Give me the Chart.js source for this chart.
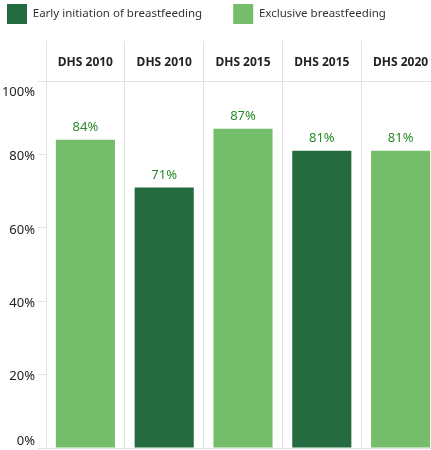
<!DOCTYPE html>
<html><head><meta charset="utf-8">
<script src="https://cdn.jsdelivr.net/npm/chart.js@4/dist/chart.umd.min.js"></script>
<style>html,body{margin:0;padding:0;background:#fff;overflow:hidden;width:431px;height:450px}#wrap{width:440px;height:450px;position:relative}</style>
</head><body><div id="wrap"><canvas id="c"></canvas></div>
<script>
const categories = ['DHS 2010', 'DHS 2010', 'DHS 2015', 'DHS 2015', 'DHS 2020'];
const earlyInitiation = [null, 71, null, 81, null];
const exclusiveBreastfeeding = [84, null, 87, null, 81];
const yTickValues = [0, 20, 40, 60, 80, 100];
const seriesNames = ['Early initiation of breastfeeding', 'Exclusive breastfeeding'];

const DARK = '#246B3F', LIGHT = '#74BD6A', LABEL = '#2A8A2A', GRID = '#e2e2e2';
const FONT = "'Noto Sans', sans-serif";

const valueLabels = {
  id: 'valueLabels',
  afterDatasetsDraw(chart) {
    const ctx = chart.ctx;
    ctx.save();
    ctx.font = '13px ' + FONT;
    ctx.fillStyle = LABEL;
    ctx.textAlign = 'center';
    ctx.textBaseline = 'middle';
    chart.data.datasets.forEach((ds, di) => {
      const meta = chart.getDatasetMeta(di);
      meta.data.forEach((bar, i) => {
        const v = ds.data[i];
        if (v == null) return;
        ctx.fillText(v + '%', bar.x, bar.y - 12);
      });
    });
    ctx.restore();
  }
};

new Chart(document.getElementById('c'), {
  type: 'bar',
  data: {
    labels: categories,
    datasets: [
      { label: seriesNames[0], data: earlyInitiation, backgroundColor: DARK, borderWidth: 0, grouped: false },
      { label: seriesNames[1], data: exclusiveBreastfeeding, backgroundColor: LIGHT, borderWidth: 0, grouped: false }
    ]
  },
  options: {
    responsive: true,
    maintainAspectRatio: false,
    animation: false,
    layout: { padding: { left: -24, top: -27, right: 0, bottom: 2 } },
    datasets: { bar: { barPercentage: 0.75, categoryPercentage: 1 } },
    plugins: {
      tooltip: { enabled: false },
      legend: {
        position: 'top',
        align: 'start',
        labels: {
          boxWidth: 20, boxHeight: 20, padding: 31,
          color: '#333', font: { family: FONT, size: 11.5 }
        }
      }
    },
    scales: {
      x: {
        position: 'top',
        grid: { offset: true, color: GRID, tickColor: GRID, tickLength: 40, lineWidth: 1 },
        border: { display: true, color: GRID },
        ticks: { color: '#222', font: { family: FONT, size: 12, weight: 'bold' }, padding: -29, maxRotation: 0 },
        afterFit: s => { s.height = 47; s.paddingLeft = 0; s.paddingRight = 0; }
      },
      y: {
        min: 0, max: 100,
        afterBuildTicks: s => { s.ticks = yTickValues.map(v => ({ value: v })); },
        grid: {
          drawOnChartArea: true,
          color: c => (c.tick && c.tick.value === 0) ? GRID : 'rgba(0,0,0,0)',
          tickColor: GRID, tickLength: 8
        },
        border: { display: false },
        ticks: {
          color: '#222', padding: 3, labelOffset: 2,
          font: { family: FONT, size: 13, lineHeight: '18px' },
          callback: v => v === 100 ? ['', v + '%'] : (v === 0 ? [v + '%', ''] : v + '%')
        },
        afterFit: s => { s.width = 70; s.paddingTop = 0; s.paddingBottom = 0; }
      }
    }
  },
  plugins: [valueLabels]
});
</script>
</body></html>
